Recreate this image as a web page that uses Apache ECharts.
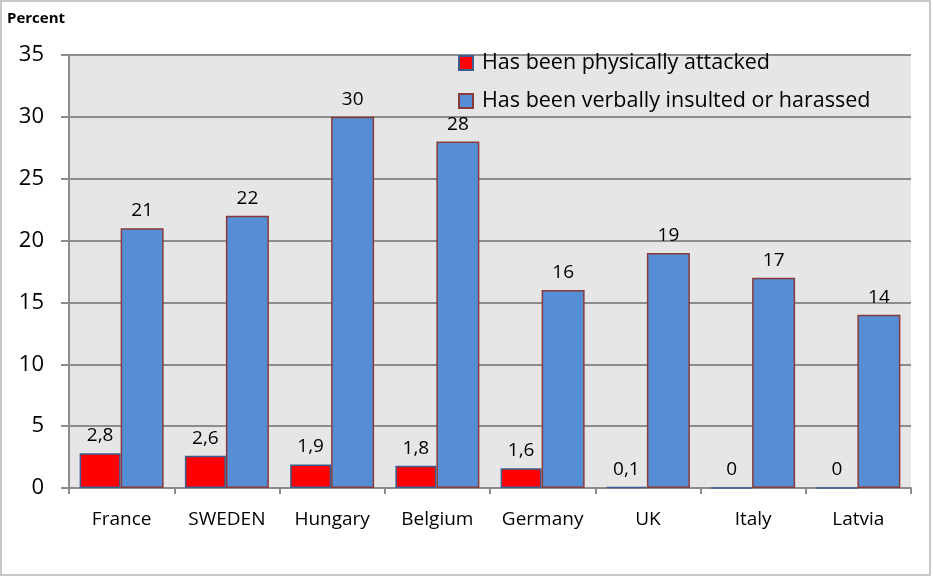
<!DOCTYPE html>
<html><head><meta charset="utf-8">
<script src="https://cdn.jsdelivr.net/npm/echarts@6/dist/echarts.min.js"></script>
<style>html,body{margin:0;padding:0;background:#fff}#c{width:933px;height:577px}</style>
</head><body><div id="c"></div>
<script>
const categories = ["France","SWEDEN","Hungary","Belgium","Germany","UK","Italy","Latvia"];
const physical = [2.8,2.6,1.9,1.8,1.6,0.1,0,0];
const verbal = [21,22,30,28,16,19,17,14];
const seriesNames = ["Has been physically attacked","Has been verbally insulted or harassed"];
const yTicks = {min:0,max:35,interval:5};
const FONT = "'Open Sans', Lato, sans-serif";
const fmt = v => String(v.value).replace('.', ',');
const chart = echarts.init(document.getElementById('c'), null, {renderer:'canvas'});
chart.setOption({
  animation:false,
  textStyle:{fontFamily:FONT},
  graphic:[
    {type:'rect',shape:{x:1,y:1,width:929,height:574},style:{fill:'none',stroke:'#c8c8c8',lineWidth:2},silent:true,z:-10},
    {type:'text',left:7,top:11,style:{text:'Percent',font:"bold 15px "+FONT,fill:'#000'}}],
  grid:{left:69,right:22,top:55,bottom:89,show:true,backgroundColor:'#e6e6e6',borderWidth:0},
  legend:{left:453,top:47,orient:'vertical',itemGap:16,itemWidth:14,itemHeight:14,
    textStyle:{fontSize:21.5,color:'#000',fontFamily:FONT,padding:[0,0,0,4]},
    data:[{name:seriesNames[0],icon:'rect',itemStyle:{color:'#ff0000',borderColor:'#3a5f8f',borderWidth:2}},
          {name:seriesNames[1],icon:'rect',itemStyle:{color:'#558ed5',borderColor:'#8b3a3a',borderWidth:2}}]},
  xAxis:{type:'category',data:categories,boundaryGap:true,
    axisLine:{lineStyle:{color:'#8c8c8c',width:2}},
    axisTick:{show:true,length:6,lineStyle:{color:'#8c8c8c',width:2}},
    axisLabel:{interval:0,fontSize:19,color:'#000',margin:22,fontFamily:FONT}},
  yAxis:{type:'value',min:yTicks.min,max:yTicks.max,interval:yTicks.interval,
    axisLine:{show:true,lineStyle:{color:'#8c8c8c',width:2}},
    axisTick:{show:true,length:8,lineStyle:{color:'#8c8c8c',width:2}},
    splitLine:{lineStyle:{color:'#8c8c8c',width:2}},
    axisLabel:{fontSize:22,color:'#000',margin:25,fontFamily:FONT}},
  series:[
    {name:seriesNames[0],type:'bar',data:physical,barWidth:41,barGap:'0%',barCategoryGap:'20%',
     itemStyle:{color:'#ff0000',borderColor:'#3a5f8f',borderWidth:1.5},
     label:{show:true,position:'top',distance:8,fontSize:19,color:'#000',formatter:fmt,fontFamily:FONT}},
    {name:seriesNames[1],type:'bar',data:verbal,barWidth:43,
     itemStyle:{color:'#558ed5',borderColor:'#8b3a3a',borderWidth:1.5},
     label:{show:true,position:'top',distance:8,fontSize:19,color:'#000',formatter:fmt,fontFamily:FONT}}
  ]
});
</script></body></html>
